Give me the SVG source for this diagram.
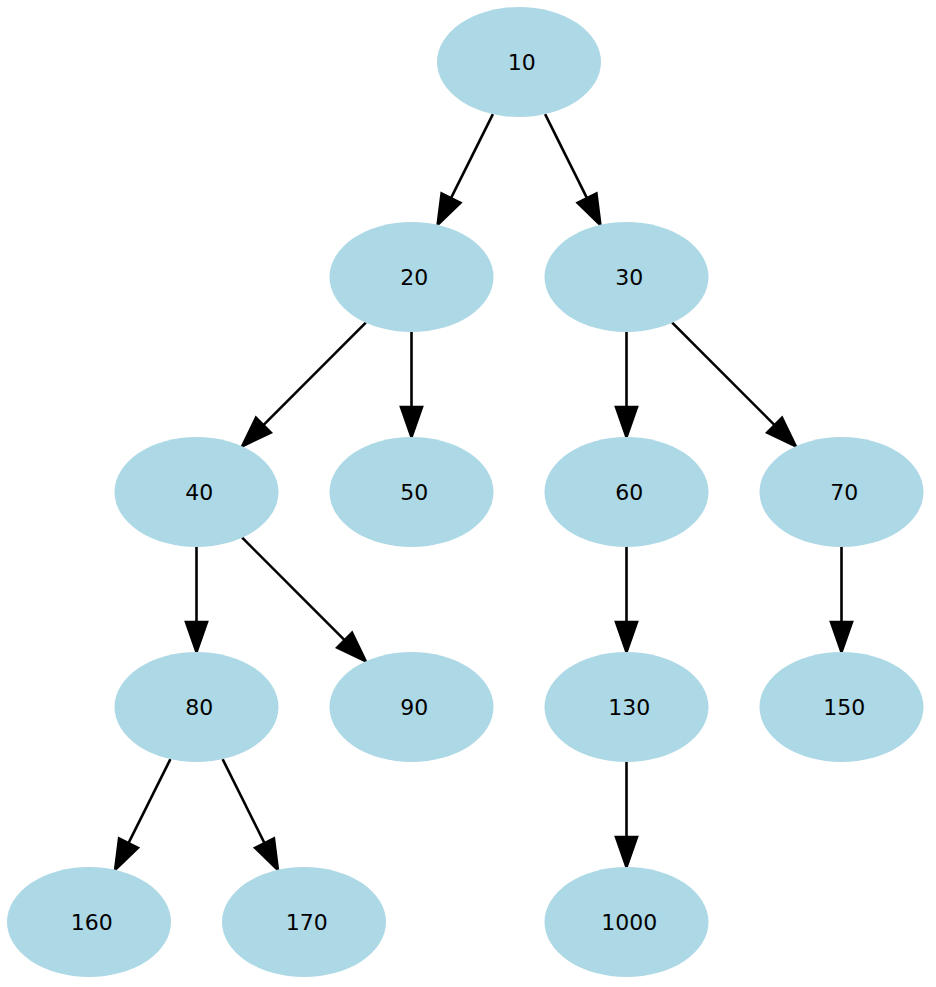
<svg xmlns="http://www.w3.org/2000/svg" width="936" height="987" viewBox="0 0 936 987">
<style>
.node ellipse{fill:#add8e6;stroke:none}
.node text{font-family:"DejaVu Sans",sans-serif;font-size:22px;fill:#000;text-anchor:middle}
.edge line{stroke:#000;stroke-width:2.6}
.edge polygon{fill:#000;stroke:#000;stroke-width:2.6;stroke-linejoin:miter}
</style>
<rect width="936" height="987" fill="#fff"/>
<g id="connectors" class="edge">
<line x1="492.9" y1="114.1" x2="451.0" y2="198.1"/><polygon points="437.6,224.9 460.4,202.8 441.6,193.4"/>
<line x1="545.1" y1="114.1" x2="587.0" y2="198.1"/><polygon points="600.4,224.9 596.4,193.4 577.6,202.8"/>
<line x1="365.8" y1="322.7" x2="263.4" y2="425.1"/><polygon points="242.2,446.3 270.8,432.5 256.0,417.7"/>
<line x1="411.5" y1="332" x2="411.5" y2="407"/><polygon points="411.5,437 401,407 422,407"/>
<line x1="626.5" y1="332" x2="626.5" y2="407"/><polygon points="626.5,437 616,407 637,407"/>
<line x1="672.2" y1="322.7" x2="774.6" y2="425.1"/><polygon points="795.8,446.3 782.0,417.7 767.2,432.5"/>
<line x1="196.5" y1="547" x2="196.5" y2="622"/><polygon points="196.5,652 186,622 207,622"/>
<line x1="242.2" y1="537.7" x2="344.6" y2="640.1"/><polygon points="365.8,661.3 352.0,632.7 337.2,647.5"/>
<line x1="626.5" y1="547" x2="626.5" y2="622"/><polygon points="626.5,652 616,622 637,622"/>
<line x1="841.5" y1="547" x2="841.5" y2="622"/><polygon points="841.5,652 831,622 852,622"/>
<line x1="170.4" y1="759.1" x2="128.5" y2="843.1"/><polygon points="115.1,869.9 137.9,847.8 119.1,838.4"/>
<line x1="222.6" y1="759.1" x2="264.5" y2="843.1"/><polygon points="277.9,869.9 273.9,838.4 255.1,847.8"/>
<line x1="626.5" y1="762" x2="626.5" y2="837"/><polygon points="626.5,867 616,837 637,837"/>
</g>
<g id="n10" class="node"><ellipse cx="519" cy="62" rx="82" ry="55"/><text x="521.7" y="69.5">10</text></g>
<g id="n20" class="node"><ellipse cx="411.5" cy="277" rx="82" ry="55"/><text x="414.2" y="284.5">20</text></g>
<g id="n30" class="node"><ellipse cx="626.5" cy="277" rx="82" ry="55"/><text x="629.2" y="284.5">30</text></g>
<g id="n40" class="node"><ellipse cx="196.5" cy="492" rx="82" ry="55"/><text x="199.2" y="499.5">40</text></g>
<g id="n50" class="node"><ellipse cx="411.5" cy="492" rx="82" ry="55"/><text x="414.2" y="499.5">50</text></g>
<g id="n60" class="node"><ellipse cx="626.5" cy="492" rx="82" ry="55"/><text x="629.2" y="499.5">60</text></g>
<g id="n70" class="node"><ellipse cx="841.5" cy="492" rx="82" ry="55"/><text x="844.2" y="499.5">70</text></g>
<g id="n80" class="node"><ellipse cx="196.5" cy="707" rx="82" ry="55"/><text x="199.2" y="714.5">80</text></g>
<g id="n90" class="node"><ellipse cx="411.5" cy="707" rx="82" ry="55"/><text x="414.2" y="714.5">90</text></g>
<g id="n130" class="node"><ellipse cx="626.5" cy="707" rx="82" ry="55"/><text x="629.2" y="714.5">130</text></g>
<g id="n150" class="node"><ellipse cx="841.5" cy="707" rx="82" ry="55"/><text x="844.2" y="714.5">150</text></g>
<g id="n160" class="node"><ellipse cx="89" cy="922" rx="82" ry="55"/><text x="91.7" y="929.5">160</text></g>
<g id="n170" class="node"><ellipse cx="304" cy="922" rx="82" ry="55"/><text x="306.7" y="929.5">170</text></g>
<g id="n1000" class="node"><ellipse cx="626.5" cy="922" rx="82" ry="55"/><text x="629.2" y="929.5">1000</text></g>
</svg>
